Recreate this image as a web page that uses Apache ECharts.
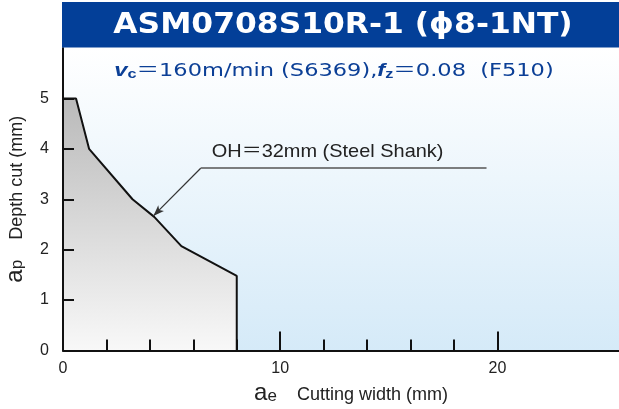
<!DOCTYPE html>
<html>
<head>
    <meta charset="utf-8">
    <title>ASM0708S10R-1</title>
    <script src="https://cdn.jsdelivr.net/npm/echarts@6/dist/echarts.min.js"></script>
    <style>
        html, body { margin: 0; padding: 0; background: #fff; }
        #main { width: 619px; height: 409px; }
    </style>
</head>
<body>
<div id="main"></div>
<script>
// 切削范围边界 (ae, ap)
const cutWidth = [0, 0.6, 1.2, 3.2, 4.2, 5.45, 8.0, 8.0];
const cutDepth = [5, 5, 4, 3, 2.65, 2.07, 1.48, 0];

// 刻度
const xLabelValues = [0, 10, 20];
const xMajorTicks = [10, 20];
const xMinorTicks = [2, 4, 6, 8, 12, 14, 16, 18];
const yTickValues = [1, 2, 3, 4, 5];
const yLabelValues = [0, 1, 2, 3, 4, 5];

// 注释 OH=32mm
const noteText = 'OH＝32mm (Steel Shank)';
const noteLineEnd = [19.5, 3.615];
const noteElbow = [6.34, 3.615];
const noteArrowTip = [4.16, 2.67];
const noteTextAt = [6.85, 3.75];

const X_MAX = 25.6, Y_MAX = 6;
const FONT = '"Liberation Sans", Arial, "Noto Sans CJK JP", sans-serif';
const WIDE = '"DejaVu Sans", "Noto Sans CJK JP", sans-serif';

const chart = echarts.init(document.getElementById('main'));

const gridBox = { left: 63, right: 0, top: 48, bottom: 58.5, outerBoundsMode: 'none' };

const nameRich = {
    a: { fontSize: 24, fontFamily: FONT, color: '#222', verticalAlign: 'bottom' },
    s: { fontSize: 17, fontFamily: FONT, color: '#222', verticalAlign: 'bottom', padding: [0, 0, 1, 0] },
    t: { fontSize: 18, fontFamily: FONT, color: '#222', verticalAlign: 'bottom', padding: [0, 0, 1, 0] }
};

const option = {
    animation: false,
    grid: [
        Object.assign({
            show: true, borderWidth: 0,
            backgroundColor: new echarts.graphic.LinearGradient(0, 0, 0, 1, [
                { offset: 0, color: '#ffffff' },
                { offset: 1, color: '#d5eaf8' }
            ])
        }, gridBox),
        Object.assign({}, gridBox)
    ],
    xAxis: [{
        type: 'value', min: 0, max: X_MAX, interval: 10, z: 5,
        name: '{a|a}{s|e}{t|    Cutting width (mm)}',
        nameLocation: 'middle', nameGap: 27,
        nameTextStyle: { rich: nameRich, padding: [0, 0, 0, 20] },
        axisLine: { lineStyle: { color: '#111', width: 2 } },
        axisTick: { inside: true, length: 19, customValues: xMajorTicks, lineStyle: { color: '#111', width: 2 } },
        axisLabel: { customValues: xLabelValues, margin: 10, fontSize: 16, color: '#222', fontFamily: FONT },
        splitLine: { show: false }
    }, {
        gridIndex: 1, type: 'value', min: 0, max: X_MAX, z: 5,
        axisLine: { show: false },
        axisTick: { inside: true, length: 11, customValues: xMinorTicks, lineStyle: { color: '#111', width: 2 } },
        axisLabel: { show: false },
        splitLine: { show: false }
    }],
    yAxis: [{
        type: 'value', min: 0, max: Y_MAX, interval: 1, z: 5,
        name: '{a|a}{s|p}{t|    Depth cut (mm)}',
        nameLocation: 'middle', nameRotate: 90, nameGap: 36,
        nameTextStyle: { rich: nameRich },
        axisLine: { lineStyle: { color: '#111', width: 2 } },
        axisTick: { inside: true, length: 11, customValues: yTickValues, lineStyle: { color: '#111', width: 2 } },
        axisLabel: { customValues: yLabelValues, margin: 14, fontSize: 16, color: '#222', fontFamily: FONT },
        splitLine: { show: false }
    }, {
        gridIndex: 1, type: 'value', min: 0, max: Y_MAX, show: false
    }],
    series: [{
        type: 'line',
        data: cutWidth.map((x, i) => [x, cutDepth[i]]),
        symbol: 'none',
        lineStyle: { color: '#111', width: 2 },
        areaStyle: {
            opacity: 1,
            color: new echarts.graphic.LinearGradient(0, 0, 0, 1, [
                { offset: 0, color: '#bababa' },
                { offset: 1, color: '#f8f8f8' }
            ])
        },
        markLine: {
            silent: true,
            symbol: ['none', 'none'],
            label: { show: false },
            lineStyle: { color: '#555', width: 1.5, type: 'solid' },
            data: [
                [{ coord: noteLineEnd }, { coord: noteElbow }],
                [{ coord: noteElbow, symbol: 'none', lineStyle: { color: '#333', width: 1.2 } },
                 { coord: noteArrowTip, symbol: 'arrow', symbolSize: [6, 11] }]
            ]
        },
        z: 3
    }],
    graphic: [{
        type: 'rect', left: 62, top: 2,
        shape: { width: 560, height: 45.5 },
        style: { fill: '#033f98' }, z: 10
    }, {
        type: 'text', x: 343, y: 26, scaleX: 1.12,
        style: {
            text: 'ASM0708S10R-1 (ϕ8-1NT)',
            fill: '#fff', font: 'bold 28px ' + WIDE,
            align: 'center', verticalAlign: 'middle'
        }, z: 11
    }, {
        type: 'text', x: 334, y: 71, scaleX: 1.25,
        style: {
            text: '{v|v}{c|c}{n|＝160m/min (S6369),}{v|f}{c|z}{n|＝0.08  (F510)}',
            align: 'center', verticalAlign: 'middle',
            rich: {
                v: { font: 'italic bold 19px ' + FONT, fill: '#0b3f96', verticalAlign: 'bottom' },
                c: { font: 'bold 13px ' + FONT, fill: '#0b3f96', verticalAlign: 'bottom' },
                n: { font: '18px ' + WIDE, fill: '#0b3f96', verticalAlign: 'bottom' }
            }
        }, z: 11
    }]
};

chart.setOption(option);

// 注释文字位置由数据坐标换算
const notePx = chart.convertToPixel({ gridIndex: 0 }, noteTextAt);
chart.setOption({
    graphic: option.graphic.concat([{
        type: 'text', x: notePx[0], y: notePx[1], scaleX: 1.05,
        style: {
            text: noteText, font: '19px ' + FONT, fill: '#222',
            align: 'left', verticalAlign: 'bottom'
        }, z: 12
    }])
});
</script>
</body>
</html>
